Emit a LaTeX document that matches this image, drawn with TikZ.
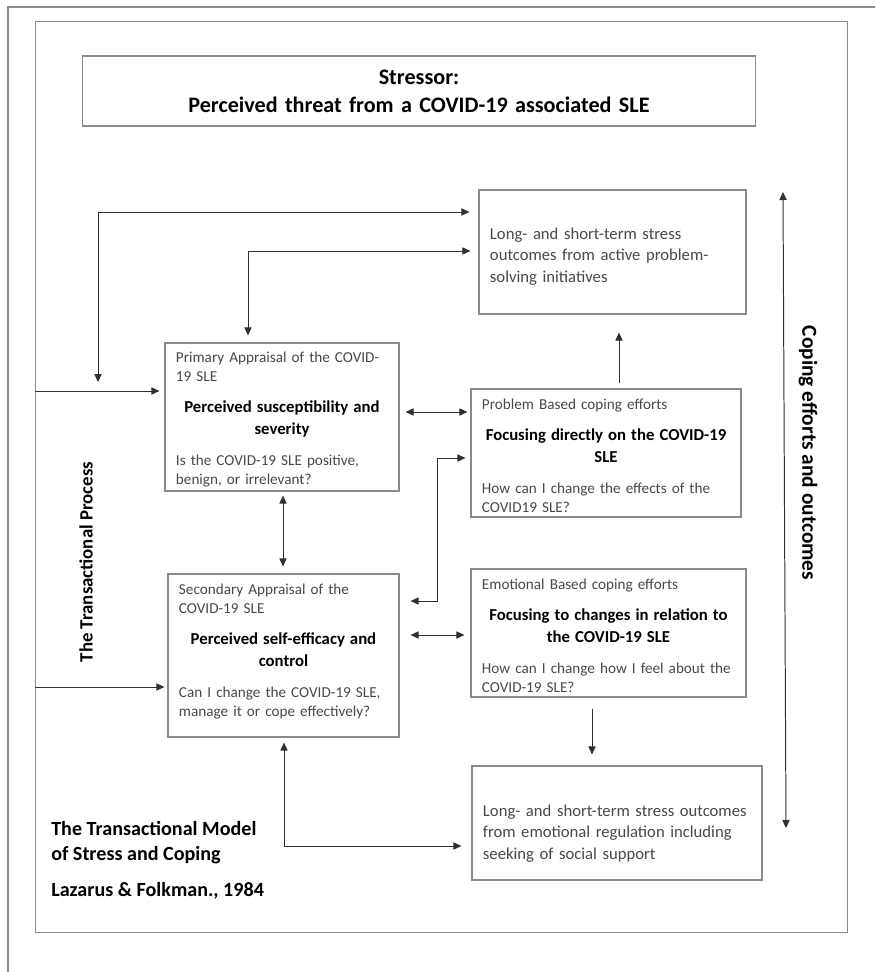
\documentclass[tikz,border=0pt]{standalone}
\usepackage{fontspec}
\setmainfont{Carlito}
\usetikzlibrary{arrows.meta}

\definecolor{boxgray}{HTML}{8A8A8A}
\definecolor{txtgray}{HTML}{484848}
\definecolor{linkgray}{HTML}{303030}

% one px of the sketch
\newcommand{\pxu}{0.025cm}
% bold centred middle part of a box
\newcommand{\focusline}[1]{\par\vspace{6.4pt}{\centering\bfseries\color{black}\fontsize{11.9}{15.6}\selectfont #1\par}\vspace{8.5pt}}
% taller first line, pushes the text down a little
\newcommand{\topgap}[1]{\rule{0pt}{#1}}

\tikzset{
  box/.style={draw=boxgray, line width=0.8pt, text=txtgray, align=left,
    inner xsep=0.275cm, inner ysep=0pt, font=\fontsize{10.8}{13.5}\selectfont},
  outbox/.style={box, font=\fontsize{11.85}{15.3}\selectfont},
  frameline/.style={draw=boxgray, line width=0.8pt},
  oneway/.style={draw=linkgray, line width=0.7pt, -{Triangle[length=2mm,width=1.8mm]}},
  twoway/.style={draw=linkgray, line width=0.7pt, {Triangle[length=2mm,width=1.8mm]}-{Triangle[length=2mm,width=1.8mm]}},
  sidetext/.style={font=\bfseries\fontsize{13.4}{15}\selectfont, text=black}
}

\begin{document}
\begin{tikzpicture}[x=\pxu, y=-\pxu]
\useasboundingbox (0,0) rectangle (875,972);

% page and frame
\draw[frameline] (875,7) -- (8,7) -- (8,972);
\node[frameline, minimum width=20.275cm, minimum height=22.75cm, inner sep=0pt] (frame) at (441.5,477) {};

% stressor
\node[box, text width=16.25cm, minimum height=1.75cm, align=center, text=black,
  font=\bfseries\fontsize{15.75}{20}\selectfont] (stressor) at (419,91)
  {Stressor:\\Perceived threat from a COVID-19 associated SLE};

% appraisals
\node[box, text width=5.3cm, minimum height=3.7cm] (prim) at (282,417)
  {\topgap{11.5pt}Primary Appraisal of the COVID-\\19 SLE
   \focusline{Perceived susceptibility and\\severity}
   Is the COVID-19 SLE positive,\\benign, or irrelevant?};
\node[box, text width=5.225cm, minimum height=4.075cm] (sec) at (283.5,655.5)
  {Secondary Appraisal of the\\COVID-19 SLE
   \focusline{Perceived self-efficacy and\\control}
   Can I change the COVID-19 SLE,\\manage it or cope effectively?\par\vspace{0.2cm}};

% coping efforts
\node[box, text width=6.2cm, minimum height=3.2cm] (prob) at (606,453)
  {\topgap{11.5pt}Problem Based coping efforts
   \focusline{Focusing directly on the COVID-19\\SLE}
   How can I change the effects of the\\COVID19 SLE?};
\node[box, text width=6.325cm, minimum height=3.2cm] (emo) at (608.5,633)
  {\topgap{11.5pt}Emotional Based coping efforts
   \focusline{Focusing to changes in relation to\\the COVID-19 SLE}
   How can I change how I feel about the\\COVID-19 SLE?};

% outcomes
\node[outbox, text width=6.125cm, minimum height=3.1cm] (outA) at (612.5,252)
  {\topgap{14.6pt}Long- and short-term stress\\outcomes from active problem-\\solving initiatives};
\node[outbox, text width=6.7cm, minimum height=2.85cm] (outB) at (617,823)
  {\topgap{23pt}Long- and short-term stress outcomes\\from emotional regulation including\\seeking of social support};

% side labels
\node[sidetext, rotate=90] (process) at (86,562) {The Transactional Process};
\node[sidetext, rotate=-90, font=\bfseries\fontsize{15.2}{17}\selectfont] (coping) at (808,453) {Coping efforts and outcomes};
\node[anchor=north west, inner sep=0pt, align=left, text=black,
  font=\bfseries\fontsize{14.3}{17.7}\selectfont] (model) at (51,821)
  {The Transactional Model\\of Stress and Coping\\[7.9pt]Lazarus \& Folkman., 1984};

% bend points
\coordinate (tipA) at (98,382);
\coordinate (bendA) at (98,212);
\coordinate (bendB) at (248,251);
\coordinate (rowC) at (0,412);
\coordinate (bendD1) at (437,458);
\coordinate (bendD2) at (437,601);
\coordinate (colE) at (283,0);
\coordinate (rowF) at (0,635);
\coordinate (colG) at (619,0);
\coordinate (colH) at (592,0);
\coordinate (bendI) at (284,846);
\coordinate (rowJ) at (0,391);
\coordinate (rowK) at (0,687);
\coordinate (copeTop) at (783,192);
\coordinate (copeBot) at (786,828);

% links
\draw[twoway, shorten >=0.225cm] (tipA) -- (bendA) -- (bendA -| outA.west);
\draw[twoway, shorten <=0.175cm, shorten >=0.2cm] (prim.north -| bendB) -- (bendB) -- (bendB -| outA.west);
\draw[twoway, shorten <=0.15cm, shorten >=0.075cm] (prim.east |- rowC) -- (prob.west |- rowC);
\draw[twoway, shorten <=0.275cm, shorten >=0.125cm] (sec.east |- bendD2) -- (bendD2) -- (bendD1) -- (prob.west |- bendD1);
\draw[twoway, shorten <=0.1cm, shorten >=0.175cm] (prim.south -| colE) -- (sec.north -| colE);
\draw[twoway, shorten <=0.275cm, shorten >=0.15cm] (sec.east |- rowF) -- (emo.west |- rowF);
\draw[oneway, shorten <=0.125cm, shorten >=0.45cm] (prob.north -| colG) -- (outA.south -| colG);
\draw[oneway, shorten <=0.275cm, shorten >=0.275cm] (emo.south -| colH) -- (outB.north -| colH);
\draw[twoway, shorten <=0.125cm, shorten >=0.25cm] (sec.south -| bendI) -- (bendI) -- (bendI -| outB.west);
\draw[oneway, shorten >=0.125cm] (frame.west |- rowJ) -- (prim.west |- rowJ);
\draw[oneway, shorten >=0.075cm] (frame.west |- rowK) -- (sec.west |- rowK);
\draw[twoway] (copeTop) -- (copeBot);
\end{tikzpicture}
\end{document}
